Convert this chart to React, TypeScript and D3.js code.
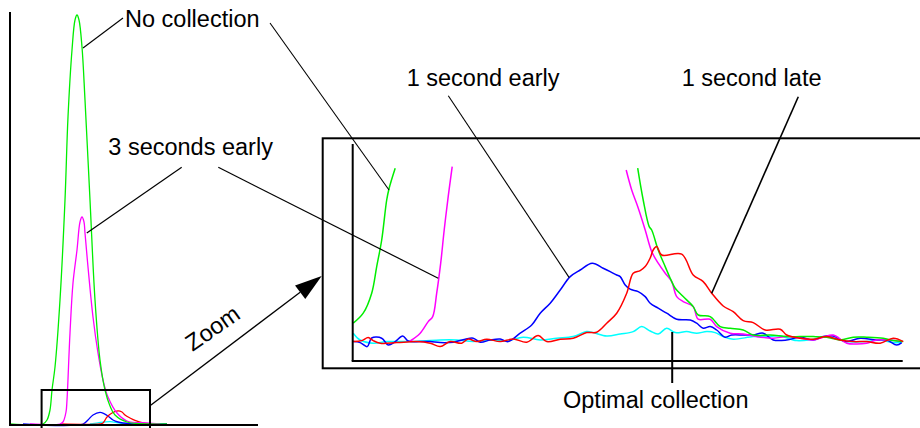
import React from "react";
import * as d3 from "d3";

type Pt = [number, number];

// ---------- Overview panel (time in s, signal in % of peak) ----------
const overviewGreen: Pt[] = [
  [0, 0], [8.25, 0], [9.25, 1], [10, 3.5], [10.5, 8.5], [11.25, 14.25], [12.5, 31],
  [13.75, 56], [14.5, 76.75], [15.5, 93.5], [16.25, 101], [16.75, 102.25], [17.25, 101],
  [18, 94.25], [18.75, 81], [20, 56], [21.25, 31], [22.5, 16], [23.75, 8.5], [25, 4.5],
  [26.25, 2.25], [29.25, 0.5], [35, 0], [39.25, 0],
];
const overviewMagenta: Pt[] = [
  [5, 0], [12.5, 0], [13.25, 0.5], [14, 3], [14.25, 6], [15, 22.75], [15.75, 35.25],
  [16.75, 43.5], [17.5, 50.5], [18, 51.75], [18.5, 50.5], [18.75, 47.75], [19.5, 39.25],
  [20.75, 26.75], [22, 17.75], [23.25, 11], [24.5, 6.75], [26.75, 2.75], [29.25, 0.75],
  [34.25, 0.25], [37.5, 0],
];
const overviewBlue: Pt[] = [
  [3.25, 0], [18.25, 0], [19.5, 1], [20.75, 2.25], [22.5, 2.9], [23.5, 2.6], [24.5, 2],
  [25.75, 1], [27, 0.5], [30, 0.1], [39.25, 0],
];
const overviewRed: Pt[] = [
  [12.5, 0], [22.5, 0], [23.25, 0.25], [24.25, 1.75], [25.5, 2.75], [27, 3.3], [28, 3],
  [28.75, 2.25], [30, 1.5], [31.25, 0.9], [33.25, 0.25], [35, 0],
];
const overviewCyan: Pt[] = [
  [20, 0], [22, 0.3], [25, 0.6], [27, 0.3], [29, 0],
];

// ---------- Zoomed panel (time step, signal) ----------
const zoomGreenRise: Pt[] = [
  [0.1, 18.9], [2.1, 23.9], [3.8, 33.9], [4.8, 47.2], [5.8, 60.5], [6.8, 80.5], [7.3, 86.5], [8.5, 96.4],
];
const zoomGreenFall: Pt[] = [
  [57.0, 96.4], [58.1, 80.5], [59.3, 67.2], [59.8, 65.5], [61.1, 55.5], [62.5, 47.2], [63.5, 41.4],
  [64.5, 36.4], [66.1, 32.2], [68.1, 27.2], [69.1, 23.0], [71.5, 22.2], [73.5, 17.2], [75.5, 16.4],
  [78.1, 15.5], [80.1, 13.0], [83.5, 13.0], [86.8, 12.2], [89.5, 12.2], [92.1, 12.2], [94.8, 11.9],
  [97.5, 10.5], [100.1, 11.9], [102.8, 11.9], [106.1, 11.4], [108.1, 10.2], [110.1, 9.7],
];
const zoomMagentaRise: Pt[] = [
  [11.5, 10.0], [13.5, 13.9], [15.1, 19.7], [16.0, 22.2], [16.8, 33.9], [17.6, 48.9], [18.3, 65.5],
  [19.1, 82.2], [19.9, 97.2],
];
const zoomMagentaFall: Pt[] = [
  [54.7, 95.5], [55.8, 85.5], [57.0, 77.2], [58.5, 65.5], [59.8, 54.7], [61.1, 48.9], [62.5, 43.9],
  [63.8, 39.7], [64.8, 32.2], [66.1, 29.7], [68.1, 27.2], [69.1, 20.9], [71.5, 20.9], [72.8, 17.2],
  [75.5, 13.9], [78.1, 13.5], [80.8, 12.2], [84.1, 11.4], [86.8, 12.2], [89.5, 11.4], [92.1, 10.5],
  [94.1, 11.9], [96.1, 13.0], [98.8, 8.9], [100.8, 8.5], [102.8, 8.9], [104.8, 10.5], [107.5, 10.5],
  [109.5, 9.7],
];
const zoomBlue: Pt[] = [
  [0.1, 9.7], [1.5, 9.2], [2.9, 7.2], [3.8, 11.5], [5.8, 11.4], [7.1, 8.0], [8.5, 9.7], [10.0, 12.5],
  [11.1, 10.0], [13.5, 9.7], [15.5, 9.7], [17.5, 9.2], [20.1, 9.4], [22.5, 10.9], [24.1, 11.4],
  [25.5, 9.4], [27.5, 10.5], [29.5, 11.0], [31.1, 9.7], [33.5, 13.9], [35.8, 18.0], [37.5, 23.9],
  [39.5, 28.9], [41.5, 35.5], [43.5, 42.2], [45.5, 45.5], [47.9, 48.9], [50.1, 46.4], [51.5, 44.7],
  [52.8, 43.0], [53.5, 42.2], [54.5, 38.0], [55.5, 35.9], [57.1, 34.7], [58.5, 32.2], [59.5, 28.9],
  [61.1, 26.4], [62.8, 23.9], [64.8, 20.9], [67.5, 20.5], [68.8, 18.9], [70.1, 16.4], [71.5, 17.2],
  [72.8, 15.5], [74.5, 11.9], [75.8, 13.0], [78.1, 13.0], [80.1, 13.0], [82.1, 13.9], [84.1, 10.5],
  [86.8, 10.5], [89.5, 11.9], [92.1, 10.5], [94.1, 12.2], [96.1, 12.5], [98.5, 9.7], [101.5, 11.4],
  [104.8, 10.5], [106.8, 10.5], [108.8, 8.0], [109.8, 9.2],
];
const zoomRed: Pt[] = [
  [0.1, 9.7], [1.8, 10.2], [3.1, 11.7], [4.1, 10.2], [5.5, 8.9], [8.8, 9.2], [12.8, 9.7], [15.5, 8.9],
  [17.5, 7.2], [19.5, 9.7], [21.8, 8.9], [23.1, 11.0], [24.8, 9.7], [26.8, 10.9], [29.5, 9.7],
  [32.1, 11.0], [34.8, 9.4], [37.1, 12.7], [38.8, 9.7], [41.5, 10.9], [44.1, 11.4], [46.8, 14.2],
  [48.8, 14.4], [50.8, 18.9], [52.8, 23.9], [54.8, 33.9], [56.1, 43.9], [57.5, 45.2], [58.5, 47.2],
  [59.5, 51.5], [60.1, 55.5], [60.8, 57.2], [61.8, 53.0], [65.8, 53.4], [68.1, 43.0], [70.1, 39.7],
  [71.8, 33.9], [74.1, 27.5], [76.1, 24.7], [78.1, 20.2], [80.1, 19.2], [82.5, 15.5], [85.5, 15.9],
  [86.8, 13.0], [89.5, 11.4], [92.1, 10.9], [94.8, 12.2], [97.5, 10.5], [100.1, 9.7], [102.8, 9.7],
  [105.5, 8.9], [108.1, 11.4], [110.1, 9.7],
];
const zoomCyan: Pt[] = [
  [0.1, 13.9], [1.5, 10.5], [4.1, 8.9], [6.8, 9.7], [10.8, 9.7], [14.1, 10.0], [17.5, 10.5],
  [20.8, 10.5], [24.1, 9.7], [27.5, 10.5], [30.8, 10.0], [34.1, 11.9], [37.5, 10.5], [40.8, 11.4],
  [44.1, 12.2], [46.8, 14.7], [48.1, 14.2], [50.8, 12.5], [53.5, 13.5], [56.1, 14.7], [57.8, 17.2],
  [59.5, 15.0], [61.1, 13.5], [62.8, 16.4], [64.5, 14.2], [66.8, 14.7], [68.8, 13.9], [70.8, 14.7],
  [72.5, 14.2], [74.1, 12.2], [76.1, 10.9], [80.1, 12.2], [82.8, 12.2], [85.5, 12.5], [88.8, 10.2],
  [92.1, 10.9], [94.8, 12.2], [98.8, 9.7], [102.8, 9.7], [105.5, 10.5], [108.1, 9.2], [109.8, 9.2],
];

// Labels
const labelNoCollection = "No collection";
const label3Early = "3 seconds early";
const label1Early = "1 second early";
const label1Late = "1 second late";
const labelOptimal = "Optimal collection";
const labelZoom = "Zoom";

const GREEN = "#00ee00";
const MAGENTA = "#ff00ff";
const BLUE = "#0000ff";
const RED = "#ff0000";
const CYAN = "#00ffff";

export default function App() {
  const W = 920;
  const H = 428;

  const leftX = d3.scaleLinear().domain([0, 62]).range([10, 258]);
  const leftY = d3.scaleLinear().domain([0, 103]).range([424, 12]);
  const zoomX = d3.scaleLinear().domain([0, 110]).range([352.7, 902.7]);
  const zoomY = d3.scaleLinear().domain([0, 108.5]).range([361, 144]);

  const leftLine = d3
    .line<Pt>()
    .x((d) => leftX(d[0]))
    .y((d) => leftY(d[1]))
    .curve(d3.curveCatmullRom.alpha(0.5));
  const zoomLine = d3
    .line<Pt>()
    .x((d) => zoomX(d[0]))
    .y((d) => zoomY(d[1]))
    .curve(d3.curveCatmullRom.alpha(0.5));

  const font = "'Liberation Sans', Arial, Helvetica, sans-serif";
  const fs = 23.5;

  // arrow geometry
  const aStart: Pt = [150, 405.7];
  const aTip: Pt = [321.7, 276];
  const ang = Math.atan2(aTip[1] - aStart[1], aTip[0] - aStart[0]);
  const aLen = 27;
  const aHalf = 8.5;
  const bx = aTip[0] - aLen * Math.cos(ang);
  const by = aTip[1] - aLen * Math.sin(ang);
  const px = -Math.sin(ang) * aHalf;
  const py = Math.cos(ang) * aHalf;

  return (
    <svg
      width={W}
      height={H}
      style={{ position: "absolute", left: 0, top: 0, background: "#fff" }}
      fontFamily={font}
    >
      <rect x={0} y={0} width={W} height={H} fill="#fff" />

      {/* ---- Overview panel ---- */}
      <g fill="none" strokeWidth={1.3}>
        <path d={leftLine(overviewCyan) || ""} stroke={CYAN} />
        <path d={leftLine(overviewBlue) || ""} stroke={BLUE} />
        <path d={leftLine(overviewRed) || ""} stroke={RED} />
        <path d={leftLine(overviewMagenta) || ""} stroke={MAGENTA} />
        <path d={leftLine(overviewGreen) || ""} stroke={GREEN} />
      </g>
      <line x1={leftX(0)} y1={leftY(0) + 1} x2={leftX(0)} y2={leftY(103)} stroke="#000" strokeWidth={2} />
      <line x1={leftX(0) - 1} y1={leftY(0) + 1} x2={leftX(62)} y2={leftY(0) + 1} stroke="#000" strokeWidth={2} />
      <rect
        x={leftX(7.9)}
        y={leftY(8.5)}
        width={leftX(35) - leftX(7.9)}
        height={50}
        fill="none"
        stroke="#000"
        strokeWidth={2}
      />

      {/* ---- Zoom panel ---- */}
      <rect x={322.7} y={138.3} width={620} height={230} fill="none" stroke="#000" strokeWidth={2} />
      <g fill="none" strokeWidth={1.5}>
        <path d={zoomLine(zoomCyan) || ""} stroke={CYAN} />
        <path d={zoomLine(zoomBlue) || ""} stroke={BLUE} />
        <path d={zoomLine(zoomMagentaRise) || ""} stroke={MAGENTA} />
        <path d={zoomLine(zoomMagentaFall) || ""} stroke={MAGENTA} />
        <path d={zoomLine(zoomGreenRise) || ""} stroke={GREEN} />
        <path d={zoomLine(zoomGreenFall) || ""} stroke={GREEN} />
        <path d={zoomLine(zoomRed) || ""} stroke={RED} />
      </g>
      <line x1={zoomX(0)} y1={zoomY(0)} x2={zoomX(0)} y2={zoomY(108.5)} stroke="#000" strokeWidth={2} />
      <line x1={zoomX(0) - 1} y1={zoomY(0)} x2={zoomX(110)} y2={zoomY(0)} stroke="#000" strokeWidth={2} />

      {/* ---- Leader lines ---- */}
      <g stroke="#000" fill="none">
        <line x1={123} y1={18} x2={leftX(18.25)} y2={leftY(94)} strokeWidth={1.1} />
        <line x1={270} y1={23} x2={zoomX(7.26)} y2={zoomY(85.5)} strokeWidth={1.1} />
        <line x1={181.7} y1={167.3} x2={leftX(19.2)} y2={leftY(47.75)} strokeWidth={1.2} />
        <line x1={218.3} y1={167.3} x2={zoomX(17.1)} y2={zoomY(41.4)} strokeWidth={1.2} />
        <line x1={448.3} y1={95.7} x2={zoomX(43.3)} y2={zoomY(41.7)} strokeWidth={1.1} />
        <line x1={798.3} y1={96.7} x2={zoomX(71.8)} y2={zoomY(33.9)} strokeWidth={1.6} />
        <line x1={zoomX(63.9)} y1={zoomY(14.5)} x2={zoomX(63.9)} y2={383} strokeWidth={2} />
        <line x1={aStart[0]} y1={aStart[1]} x2={bx} y2={by} strokeWidth={1.3} />
      </g>
      <polygon
        points={`${aTip[0]},${aTip[1]} ${bx + px},${by + py} ${bx - px},${by - py}`}
        fill="#000"
      />

      {/* ---- Labels ---- */}
      <g fontSize={fs} fill="#000">
        <text x={125} y={27.3}>{labelNoCollection}</text>
        <text x={108.3} y={155}>{label3Early}</text>
        <text x={406.7} y={86}>{label1Early}</text>
        <text x={681.7} y={86}>{label1Late}</text>
        <text x={563} y={408}>{labelOptimal}</text>
        <text
          x={0}
          y={0}
          textAnchor="middle"
          dy="0.35em"
          transform={`translate(212.5,328) rotate(-35)`}
        >
          {labelZoom}
        </text>
      </g>
    </svg>
  );
}
